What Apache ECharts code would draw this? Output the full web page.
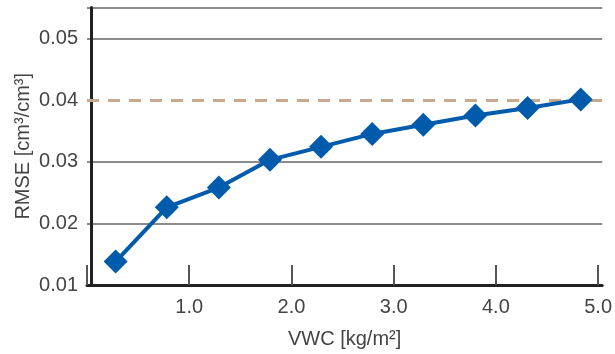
<!DOCTYPE html>
<html>
<head>
<meta charset="utf-8">
<script src="https://cdn.jsdelivr.net/npm/echarts@6/dist/echarts.min.js"></script>
<style>
  html, body { margin: 0; padding: 0; background: #fff; }
  #main { width: 615px; height: 354px; }
</style>
</head>
<body>
<div id="main"></div>
<script>
var vwc = [0.24, 0.74, 1.25, 1.75, 2.25, 2.75, 3.25, 3.76, 4.27, 4.79];
var rmse = [0.0138, 0.0226, 0.0258, 0.0303, 0.0324, 0.0345, 0.0360, 0.0375, 0.0387, 0.0401];
var target = 0.04;

var points = vwc.map(function (x, i) { return [x, rmse[i]]; });

var myChart = echarts.init(document.getElementById('main'));
var font = 'Liberation Sans, Helvetica, Arial, sans-serif';
var grid = '#666';

var option = {
    animation: false,
    grid: { left: 87, right: 9, top: 7.5, bottom: 69 },
    xAxis: {
        type: 'value',
        min: -0.04,
        max: 5.0,
        interval: 1,
        name: 'VWC [kg/m²]',
        nameLocation: 'middle',
        nameGap: 44,
        nameMoveOverlap: false,
        nameTextStyle: { fontFamily: font, fontSize: 20, color: '#444' },
        axisLine: { lineStyle: { color: '#222', width: 3 } },
        axisTick: { inside: true, length: 20, lineStyle: { color: '#555', width: 2 } },
        axisLabel: {
            fontFamily: font, fontSize: 20, color: '#444', margin: 12,
            formatter: function (v) { return v > 0 ? v.toFixed(1) : ''; }
        },
        splitLine: { show: false }
    },
    yAxis: {
        type: 'value',
        min: 0.01,
        max: 0.055,
        interval: 0.01,
        name: 'RMSE [cm³/cm³]',
        nameLocation: 'middle',
        nameRotate: 90,
        nameGap: 54,
        nameMoveOverlap: false,
        nameTextStyle: { fontFamily: font, fontSize: 20, color: '#444' },
        axisLine: { show: true, lineStyle: { color: '#222', width: 3 } },
        axisTick: { show: false },
        axisLabel: {
            fontFamily: font, fontSize: 20, color: '#444', margin: 9,
            formatter: function (v) {
                var r = Math.round(v * 100);
                return Math.abs(v * 100 - r) < 1e-6 ? v.toFixed(2) : '';
            }
        },
        splitLine: {
            show: true,
            lineStyle: { color: [grid, grid, grid, 'rgba(0,0,0,0)', grid, grid], width: 1.5 }
        }
    },
    series: [
        {
            type: 'line',
            data: points,
            lineStyle: { color: '#005bac', width: 4 },
            itemStyle: { color: '#005bac' },
            symbol: 'diamond',
            symbolSize: 24,
            z: 3,
            markLine: {
                silent: true,
                symbol: 'none',
                label: { show: false },
                lineStyle: { color: '#c9a98e', width: 3, type: [12, 9], opacity: 1 },
                data: [{ yAxis: target }],
                z: 1
            }
        }
    ]
};

myChart.setOption(option);
</script>
</body>
</html>
